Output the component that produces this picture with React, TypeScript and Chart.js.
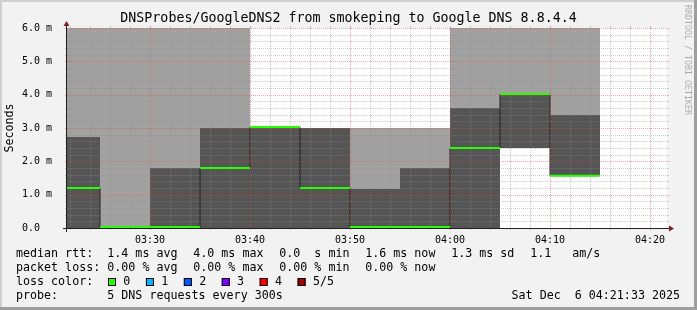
import React, { useEffect, useRef } from 'react';
import { Chart, registerables } from 'chart.js';

Chart.register(...registerables);

// ---------- data ----------
const TITLE = 'DNSProbes/GoogleDNS2 from smokeping to Google DNS 8.8.4.4';
const Y_TITLE = 'Seconds';
const WATERMARK = 'RRDTOOL / TOBI OETIKER';

// time axis in minutes since midnight (03:21.7 .. 04:21.7)
const X_MIN = 201.7;
const X_MAX = 261.7;
const STEP_MIN = 5;

const xTickMinutes = [210, 220, 230, 240, 250, 260];
const xTickLabels = ['03:30', '03:40', '03:50', '04:00', '04:10', '04:20'];
const yTickValues = [0, 1, 2, 3, 4, 5, 6];
const yTickLabels = ['0.0  ', '1.0 m', '2.0 m', '3.0 m', '4.0 m', '5.0 m', '6.0 m'];

// 5-minute intervals (start minute), values in ms
const intervalStarts = [200, 205, 210, 215, 220, 225, 230, 235, 240, 245, 250];
const medianMs = [1.2, 0.03, 0.03, 1.8, 3.03, 1.2, 0.03, 0.03, 2.4, 4.02, 1.57];
const darkLow = [0, null, 0, 0, 0, 0, 0, 0, 0, 2.4, 1.57];
const darkHigh = [2.73, null, 1.8, 3.0, 3.0, 3.0, 1.18, 1.8, 3.6, 4.0, 3.4];
const lightLow = [2.73, 0, 1.8, 3.0, null, null, 1.18, 1.8, 3.6, 4.0, 3.4];
const lightHigh = [6, 6, 6, 6, null, null, 3.0, 3.0, 6, 6, 6];

const rttStats = ['1.4 ms avg', '4.0 ms max', '0.0  s min', '1.6 ms now', '1.3 ms sd', '1.1   am/s'];
const lossStats = ['0.00 % avg', '0.00 % max', '0.00 % min', '0.00 % now'];
const lossNames = ['0', '1', '2', '3', '4', '5/5'];
const lossColors = ['#26ff00', '#00b8ff', '#0059ff', '#7e00ff', '#ff0000', '#a10000'];
const probeText = '5 DNS requests every 300s';
const dateText = 'Sat Dec  6 04:21:33 2025';

// ---------- style ----------
const MONO = "'DejaVu Sans Mono', monospace";
const BG = '#f2f2f2';
const SHADE_A = '#cfcfcf';
const SHADE_B = '#9e9e9e';
const GRID = 'rgba(143,143,143,0.45)';
const MGRID = 'rgba(222,80,80,0.5)';
const ARROW = '#801f1f';
const AXIS = '#1f1f1f';
const DARK = '#555555';
const LIGHT = '#a1a1a1';
const GREEN = lossColors[0];

function line(ctx: CanvasRenderingContext2D, x1: number, y1: number, x2: number, y2: number) {
  ctx.beginPath();
  ctx.moveTo(x1, y1);
  ctx.lineTo(x2, y2);
  ctx.stroke();
}

function drawGrid(chart: any) {
  const { ctx, chartArea: a } = chart;
  const xs = chart.scales.x;
  const ys = chart.scales.y;
  ctx.save();
  ctx.lineWidth = 1;
  for (let m = Math.ceil(X_MIN / 2) * 2; m <= X_MAX; m += 2) {
    const major = m % 10 === 0;
    const px = Math.round(xs.getPixelForValue(m)) + 0.5;
    ctx.strokeStyle = major ? MGRID : GRID;
    ctx.setLineDash([]);
    line(ctx, px, a.top - 2, px, a.top);
    line(ctx, px, a.bottom, px, a.bottom + 2);
    ctx.setLineDash([1, 1]);
    line(ctx, px, a.top, px, a.bottom);
  }
  for (let k = 1; k <= 30; k++) {
    const v = k * 0.2;
    const major = k % 5 === 0;
    const py = Math.round(ys.getPixelForValue(v)) + 0.5;
    ctx.strokeStyle = major ? MGRID : GRID;
    ctx.setLineDash([]);
    line(ctx, a.left - 2, py, a.left, py);
    line(ctx, a.right, py, a.right + 2, py);
    ctx.setLineDash([1, 1]);
    line(ctx, a.left, py, a.right, py);
  }
  ctx.restore();
}

const rrdPlugin = {
  id: 'rrdLook',
  beforeDraw(chart: any) {
    const { ctx, chartArea: a, width, height } = chart;
    ctx.save();
    ctx.fillStyle = BG;
    ctx.fillRect(0, 0, width, height);
    ctx.fillStyle = SHADE_A;
    ctx.fillRect(0, 0, width, 2);
    ctx.fillRect(0, 0, 2, height);
    ctx.fillStyle = SHADE_B;
    ctx.fillRect(0, height - 3, width, 3);
    ctx.fillRect(width - 3, 0, 3, height);
    ctx.fillStyle = '#ffffff';
    ctx.fillRect(a.left, a.top, a.right - a.left, a.bottom - a.top);
    ctx.restore();
  },
  beforeDatasetDraw(chart: any, args: any) {
    if (args.index === 0) drawGrid(chart);
  },
  afterDraw(chart: any) {
    const { ctx, chartArea: a, width } = chart;
    ctx.save();
    ctx.strokeStyle = AXIS;
    ctx.lineWidth = 1;
    ctx.setLineDash([]);
    line(ctx, a.left - 4, a.bottom + 0.5, a.right + 4, a.bottom + 0.5);
    line(ctx, a.left - 0.5, a.bottom + 4, a.left - 0.5, a.top - 4);
    ctx.fillStyle = ARROW;
    ctx.beginPath();
    ctx.moveTo(a.right + 2, a.bottom - 2.5);
    ctx.lineTo(a.right + 2, a.bottom + 3.5);
    ctx.lineTo(a.right + 7, a.bottom + 0.5);
    ctx.closePath();
    ctx.fill();
    ctx.beginPath();
    ctx.moveTo(a.left - 3.5, a.top - 2);
    ctx.lineTo(a.left + 2.5, a.top - 2);
    ctx.lineTo(a.left - 0.5, a.top - 7);
    ctx.closePath();
    ctx.fill();

    ctx.fillStyle = '#000';
    ctx.font = `13.3px ${MONO}`;
    ctx.textAlign = 'center';
    ctx.textBaseline = 'middle';
    ctx.fillText(TITLE, width / 2, 19);

    ctx.save();
    ctx.translate(687.5, 5);
    ctx.rotate(Math.PI / 2);
    ctx.font = `8.3px ${MONO}`;
    ctx.fillStyle = 'rgba(0,0,0,0.3)';
    ctx.textAlign = 'left';
    ctx.textBaseline = 'middle';
    ctx.fillText(WATERMARK, 0, 0);
    ctx.restore();

    ctx.font = `11.67px ${MONO}`;
    ctx.textAlign = 'left';
    ctx.textBaseline = 'middle';
    ctx.fillStyle = '#000';
    const row = (y: number, label: string, items: string[]) => {
      ctx.fillText(label, 16, y);
      let x = 107.3;
      for (const it of items) {
        ctx.fillText(it, x, y);
        x += ctx.measureText(it).width + 15.8;
      }
    };
    row(254, 'median rtt:', rttStats);
    row(268, 'packet loss:', lossStats);
    ctx.fillText('loss color:', 16, 282);
    let bx = 108;
    lossNames.forEach((n, i) => {
      ctx.fillStyle = lossColors[i];
      ctx.fillRect(bx, 278, 8, 8);
      ctx.strokeStyle = '#000';
      ctx.strokeRect(bx + 0.5, 278.5, 7, 7);
      ctx.fillStyle = '#000';
      ctx.fillText(n, bx + 15.3, 282);
      bx = bx + 15.3 + ctx.measureText(n).width + 15.6;
    });
    row(296, 'probe:', [probeText]);
    ctx.textAlign = 'right';
    ctx.fillText(dateText, 680, 296);
    ctx.restore();
  },
};

export default function App() {
  const ref = useRef<HTMLCanvasElement>(null);

  useEffect(() => {
    const canvas = ref.current;
    if (!canvas) return;

    const mid = (s: number) => s + STEP_MIN / 2;
    const darkData = intervalStarts
      .map((s, i) => (darkLow[i] === null ? null : { x: mid(s), y: [darkLow[i], darkHigh[i]] }))
      .filter(Boolean);
    const lightData = intervalStarts
      .map((s, i) => (lightLow[i] === null ? null : { x: mid(s), y: [lightLow[i], lightHigh[i]] }))
      .filter(Boolean);

    const greenData: any[] = [];
    intervalStarts.forEach((s, i) => {
      greenData.push({ x: s, y: medianMs[i] }, { x: s + STEP_MIN, y: medianMs[i] }, { x: s + STEP_MIN, y: null });
    });
    const stepData: any[] = intervalStarts.map((s, i) => ({ x: s, y: medianMs[i] }));
    const last = intervalStarts.length - 1;
    stepData.push({ x: intervalStarts[last] + STEP_MIN, y: medianMs[last] });

    const chart = new Chart(canvas, {
      type: 'bar',
      data: {
        datasets: [
          {
            type: 'line',
            label: 'median',
            data: greenData,
            borderColor: GREEN,
            borderWidth: 2,
            pointRadius: 0,
            spanGaps: false,
            borderCapStyle: 'butt',
          } as any,
          {
            type: 'line',
            label: 'median step',
            data: stepData,
            borderColor: '#202020',
            borderWidth: 1,
            pointRadius: 0,
            stepped: 'before',
          } as any,
          {
            type: 'bar',
            label: 'dark',
            data: darkData,
            backgroundColor: DARK,
            borderWidth: 0,
            barPercentage: 1,
            categoryPercentage: 1,
            grouped: false,
            inflateAmount: 0,
          } as any,
          {
            type: 'bar',
            label: 'light',
            data: lightData,
            backgroundColor: LIGHT,
            borderWidth: 0,
            barPercentage: 1,
            categoryPercentage: 1,
            grouped: false,
            inflateAmount: 0,
          } as any,
        ],
      },
      options: {
        animation: false,
        responsive: false,
        devicePixelRatio: 1,
        layout: { padding: { left: 0, right: 30, top: 28, bottom: 0 } },
        plugins: { legend: { display: false }, tooltip: { enabled: false }, title: { display: false } },
        scales: {
          x: {
            type: 'linear',
            min: X_MIN,
            max: X_MAX,
            offset: false,
            grid: { display: false },
            border: { display: false },
            afterBuildTicks: (s: any) => {
              s.ticks = xTickMinutes.map((v) => ({ value: v }));
            },
            afterFit: (s: any) => {
              s.height = 82;
            },
            ticks: {
              autoSkip: false,
              maxRotation: 0,
              padding: -2,
              color: '#000',
              font: { family: MONO, size: 10 },
              callback: (v: any) => xTickLabels[xTickMinutes.indexOf(Number(v))] ?? '',
            },
          },
          y: {
            type: 'linear',
            min: 0,
            max: 6,
            grid: { display: false },
            border: { display: false },
            afterBuildTicks: (s: any) => {
              s.ticks = yTickValues.map((v) => ({ value: v }));
            },
            afterFit: (s: any) => {
              s.width = 67;
            },
            ticks: {
              padding: 7,
              color: '#000',
              font: { family: MONO, size: 10 },
              callback: (v: any) => yTickLabels[yTickValues.indexOf(Number(v))] ?? '',
            },
            title: {
              display: true,
              text: Y_TITLE,
              color: '#000',
              font: { family: MONO, size: 11.67 },
              padding: { top: 3, bottom: 0 },
            },
          },
        },
      } as any,
      plugins: [rrdPlugin],
    });

    return () => chart.destroy();
  }, []);

  return (
    <div style={{ position: 'absolute', left: 0, top: 0, width: 697, height: 310 }}>
      <canvas ref={ref} width={697} height={310} style={{ display: 'block', width: 697, height: 310 }} />
    </div>
  );
}
